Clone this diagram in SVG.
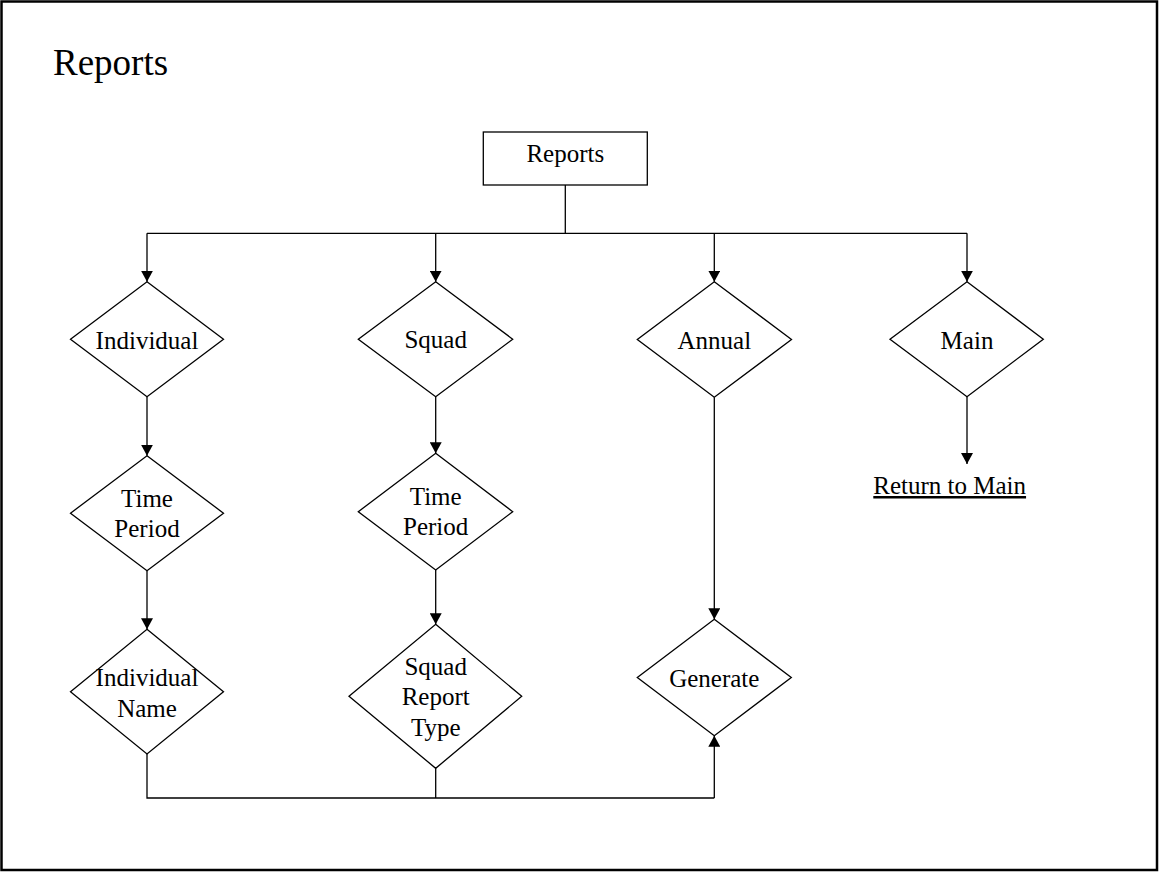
<svg xmlns="http://www.w3.org/2000/svg" width="1159" height="873" viewBox="0 0 1159 873">
<defs>
<style>
.shape{fill:#fff;stroke:#000;stroke-width:1.3}
.conn{fill:none;stroke:#000;stroke-width:1.3}
.t{font-family:"Liberation Serif","Times New Roman",serif;font-size:25px;fill:#000;text-anchor:middle}
</style>
<marker id="arr" viewBox="0 0 11 12" refX="11" refY="6" markerWidth="11" markerHeight="12" markerUnits="userSpaceOnUse" orient="auto">
<path d="M0,0 L11,6 L0,12 Z" fill="#000"/>
</marker>
</defs>
<rect x="0" y="0" width="1159" height="873" fill="#fff"/>
<rect x="1.5" y="1.5" width="1155.5" height="868.5" fill="none" stroke="#000" stroke-width="2.5"/>
<text x="53" y="75" font-family="Liberation Serif,Times New Roman,serif" font-size="37" fill="#000">Reports</text>

<g id="connectors">
<path class="conn" d="M565.3,185 V233.3"/>
<path class="conn" d="M147,233.3 H967"/>
<path class="conn" d="M147,233.3 V281.7" marker-end="url(#arr)"/>
<path class="conn" d="M435.7,233.3 V281.7" marker-end="url(#arr)"/>
<path class="conn" d="M714.3,233.3 V281.7" marker-end="url(#arr)"/>
<path class="conn" d="M967,233.3 V281.7" marker-end="url(#arr)"/>
<path class="conn" d="M147,396.7 V455.7" marker-end="url(#arr)"/>
<path class="conn" d="M147,570.7 V629.3" marker-end="url(#arr)"/>
<path class="conn" d="M435.7,396.7 V453.3" marker-end="url(#arr)"/>
<path class="conn" d="M435.7,570 V624.3" marker-end="url(#arr)"/>
<path class="conn" d="M714.3,397.3 V619.3" marker-end="url(#arr)"/>
<path class="conn" d="M967,396.7 V464" marker-end="url(#arr)"/>
<path class="conn" d="M147,754 V798 H714.3"/>
<path class="conn" d="M435.7,768.3 V798"/>
<path class="conn" d="M714.3,798 V735.7" marker-end="url(#arr)"/>
</g>

<g id="node-reports">
<rect class="shape" x="483.3" y="132" width="164" height="53"/>
<text class="t" x="565.3" y="161.7">Reports</text>
</g>
<g id="node-individual">
<polygon class="shape" points="147,281.7 223.5,339.2 147,396.7 70.5,339.2"/>
<text class="t" x="147" y="349">Individual</text>
</g>
<g id="node-squad">
<polygon class="shape" points="435.7,281.7 512.7,339.2 435.7,396.7 358.3,339.2"/>
<text class="t" x="435.7" y="348.3">Squad</text>
</g>
<g id="node-annual">
<polygon class="shape" points="714.3,281.7 791.5,339.5 714.3,397.3 637.3,339.5"/>
<text class="t" x="714.3" y="349">Annual</text>
</g>
<g id="node-main">
<polygon class="shape" points="967,281.7 1043.3,339.2 967,396.7 890,339.2"/>
<text class="t" x="967" y="349.3">Main</text>
</g>
<g id="node-time-period-1">
<polygon class="shape" points="147,455.7 223.5,513.2 147,570.7 70.5,513.2"/>
<text class="t" x="147" y="507">Time</text>
<text class="t" x="147" y="537">Period</text>
</g>
<g id="node-time-period-2">
<polygon class="shape" points="435.7,453.3 512.7,511.7 435.7,570 358.3,511.7"/>
<text class="t" x="435.7" y="505">Time</text>
<text class="t" x="435.7" y="535">Period</text>
</g>
<g id="node-individual-name">
<polygon class="shape" points="147,629.3 223.5,691.7 147,754 70.5,691.7"/>
<text class="t" x="147" y="686">Individual</text>
<text class="t" x="147" y="716.7">Name</text>
</g>
<g id="node-squad-report-type">
<polygon class="shape" points="435.7,624.3 521.7,696.3 435.7,768.3 349,696.3"/>
<text class="t" x="435.7" y="675">Squad</text>
<text class="t" x="435.7" y="705">Report</text>
<text class="t" x="435.7" y="735.7">Type</text>
</g>
<g id="node-generate">
<polygon class="shape" points="714.3,619.3 791.3,677.5 714.3,735.7 637.3,677.5"/>
<text class="t" x="714.3" y="686.7">Generate</text>
</g>
<g id="node-return-to-main">
<text class="t" x="873.3" y="494" text-anchor="start" style="text-anchor:start" text-decoration="underline">Return to Main</text>
</g>
</svg>
